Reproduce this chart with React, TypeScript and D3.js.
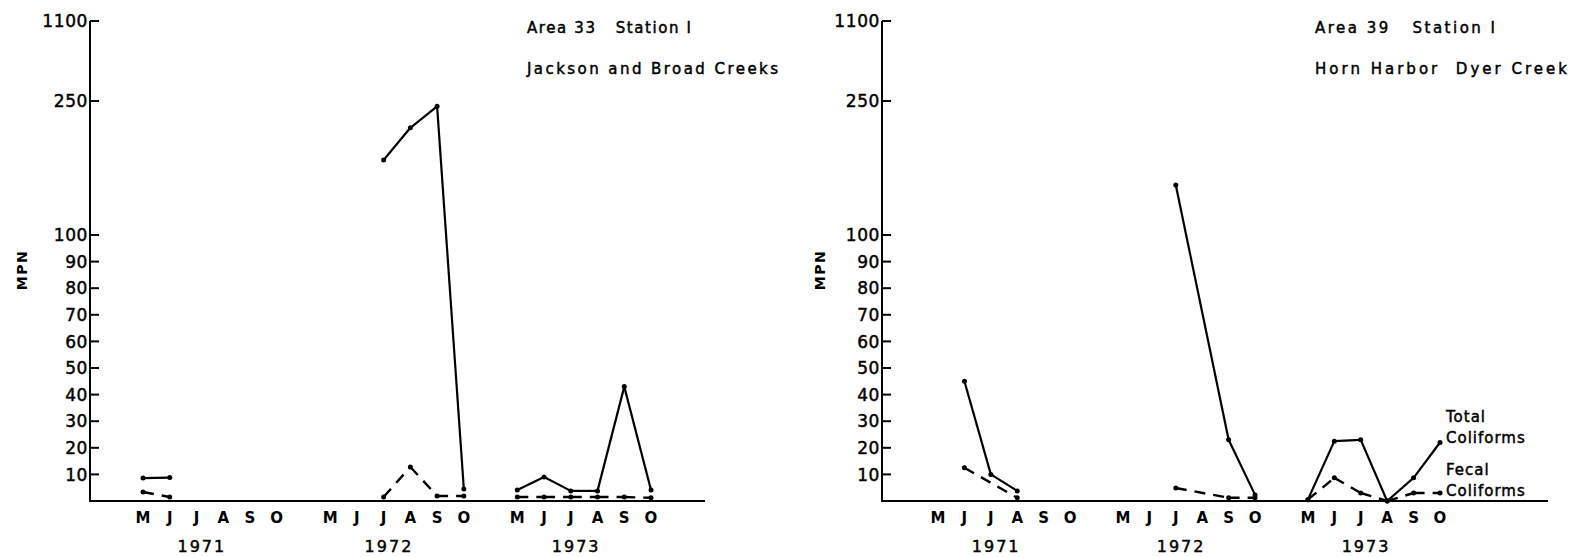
import React from 'react';
import * as d3 from 'd3';

const months = ['M', 'J', 'J', 'A', 'S', 'O'];
const years = ['1971', '1972', '1973'];
const yTickValues = [10, 20, 30, 40, 50, 60, 70, 80, 90, 100, 250, 1100];

// 18 values each: 1971 M..O, 1972 M..O, 1973 M..O (null = no sample)
const area33Total = [8.6, 8.8, null, null, null, null, null, null, 184, 220, 244, 4.5, 4.1, 9, 3.8, 3.8, 43, 4.1];
const area33Fecal = [3.4, 1.5, null, null, null, null, null, null, 1.5, 12.8, 1.9, 1.9, 1.5, 1.5, 1.5, 1.5, 1.5, 1.2];
const area39Total = [null, 45, 10, 3.8, null, null, null, null, 156, null, 23, 2.3, 0.5, 22.5, 23, 0, 8.7, 22];
const area39Fecal = [null, 12.5, null, 1.2, null, null, null, null, 4.9, null, 1.2, 1.2, 0.5, 8.7, 3, 0, 3, 3];

const FONT = '"DejaVu Sans", Verdana, sans-serif';

type Panel = {
  axisX: number;
  x0: number;
  x1: number;
  baseEnd: number;
  mpnX: number;
  title1: string;
  title2: string;
  titleX: number;
  title1Len: number;
  title2Len: number;
  total: (number | null)[];
  fecal: (number | null)[];
  legend: boolean;
};

const panels: Panel[] = [
  { axisX: 90, x0: 143, x1: 651, baseEnd: 705, mpnX: 22, title1: 'Area 33   Station I', title2: 'Jackson and Broad Creeks', titleX: 527, title1Len: 164, title2Len: 251, total: area33Total, fecal: area33Fecal, legend: false },
  { axisX: 882, x0: 938, x1: 1440, baseEnd: 1548, mpnX: 820, title1: 'Area 39   Station I', title2: 'Horn Harbor  Dyer Creek', titleX: 1315, title1Len: 180, title2Len: 252, total: area39Total, fecal: area39Fecal, legend: true },
];

const yScale = d3.scaleLinear().domain([0, 100, 250, 1100]).range([501, 235, 101, 21]);

function segments(vals: (number | null)[], x: d3.ScaleLinear<number, number>) {
  const segs: [number, number, number, number][] = [];
  for (let yi = 0; yi < 3; yi++) {
    let prev: [number, number] | null = null;
    for (let m = 0; m < 6; m++) {
      const v = vals[yi * 6 + m];
      if (v == null) continue;
      const p: [number, number] = [x(yi * 7 + m), yScale(v)];
      if (prev) segs.push([prev[0], prev[1], p[0], p[1]]);
      prev = p;
    }
  }
  return segs;
}

function points(vals: (number | null)[], x: d3.ScaleLinear<number, number>) {
  const pts: [number, number][] = [];
  vals.forEach((v, i) => {
    if (v == null) return;
    const yi = Math.floor(i / 6);
    const m = i % 6;
    pts.push([x(yi * 7 + m), yScale(v)]);
  });
  return pts;
}

const textStroke = { stroke: '#000', strokeWidth: 0.45 };

function PanelView({ p }: { p: Panel }) {
  const x = d3.scaleLinear().domain([0, 19]).range([p.x0, p.x1]);
  const base = yScale(0);
  return (
    <g>
      {/* axes */}
      <line x1={p.axisX} x2={p.axisX} y1={yScale(1100)} y2={base + 1} stroke="#000" strokeWidth={2} />
      <line x1={p.axisX} x2={p.baseEnd} y1={base} y2={base} stroke="#000" strokeWidth={2} />
      {yTickValues.map((t) => (
        <g key={t}>
          <line x1={p.axisX} x2={p.axisX + 9} y1={yScale(t)} y2={yScale(t)} stroke="#000" strokeWidth={2} />
          <text x={p.axisX - 2} y={yScale(t)} dy="0.36em" textAnchor="end" fontFamily={FONT} fontSize={17} letterSpacing={0.6} fill="#000" {...textStroke}>{t}</text>
        </g>
      ))}
      <text transform={`translate(${p.mpnX},${270}) rotate(-90)`} textAnchor="middle" dy="0.36em" fontFamily={FONT} fontWeight="bold" fontSize={14} letterSpacing={1.5} fill="#000">MPN</text>
      {/* x labels */}
      {years.map((yr, yi) => (
        <g key={yr}>
          {months.map((m, mi) => (
            <text key={mi} x={x(yi * 7 + mi)} y={518} dy="0.36em" textAnchor="middle" fontFamily={FONT} fontWeight="bold" fontSize={15} fill="#000">{m}</text>
          ))}
          <text x={x(yi * 7 + 2.2)} y={546} dy="0.36em" textAnchor="middle" fontFamily={FONT} fontSize={16} letterSpacing={2} fill="#000" {...textStroke}>{yr}</text>
        </g>
      ))}
      {/* titles */}
      <text x={p.titleX} y={28} dy="0.36em" fontFamily={FONT} fontSize={15} textLength={p.title1Len} lengthAdjust="spacing" fill="#000" style={{ whiteSpace: 'pre' }} {...textStroke}>{p.title1}</text>
      <text x={p.titleX} y={69} dy="0.36em" fontFamily={FONT} fontSize={15} textLength={p.title2Len} lengthAdjust="spacing" fill="#000" style={{ whiteSpace: 'pre' }} {...textStroke}>{p.title2}</text>
      {/* data */}
      {segments(p.total, x).map((s, i) => (
        <line key={'t' + i} x1={s[0]} y1={s[1]} x2={s[2]} y2={s[3]} stroke="#000" strokeWidth={2.2} />
      ))}
      {segments(p.fecal, x).map((s, i) => (
        <line key={'f' + i} x1={s[0]} y1={s[1]} x2={s[2]} y2={s[3]} stroke="#000" strokeWidth={2.4} strokeDasharray="11 8" />
      ))}
      {points(p.total, x).map((q, i) => (
        <circle key={'tp' + i} cx={q[0]} cy={q[1]} r={2.5} fill="#000" />
      ))}
      {points(p.fecal, x).map((q, i) => (
        <circle key={'fp' + i} cx={q[0]} cy={q[1]} r={2.5} fill="#000" />
      ))}
      {p.legend && (
        <g fontFamily={FONT} fontSize={15} fill="#000" letterSpacing={1} {...textStroke}>
          <text x={x(19) + 6} y={417} dy="0.36em">Total</text>
          <text x={x(19) + 6} y={438} dy="0.36em">Coliforms</text>
          <text x={x(19) + 6} y={470} dy="0.36em">Fecal</text>
          <text x={x(19) + 6} y={491} dy="0.36em">Coliforms</text>
        </g>
      )}
    </g>
  );
}

export default function App() {
  return (
    <svg width={1570} height={557} style={{ position: 'absolute', left: 0, top: 0, background: '#fff' }}>
      <rect width={1570} height={557} fill="#fff" />
      {panels.map((p, i) => (
        <PanelView key={i} p={p} />
      ))}
    </svg>
  );
}
